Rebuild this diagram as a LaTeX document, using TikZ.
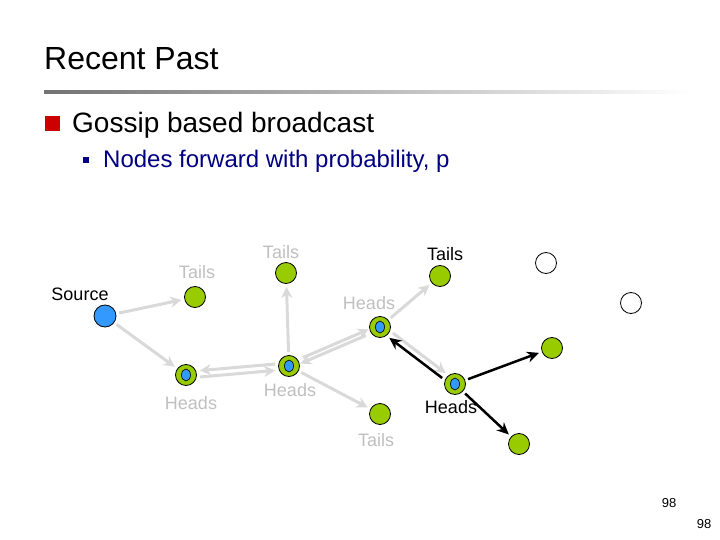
\documentclass[tikz,border=0pt]{standalone}
\usepackage{fontspec}
\setmainfont{Liberation Sans}
\usetikzlibrary{arrows.meta,positioning,shapes.geometric}

\definecolor{limegreen}{HTML}{99CC00}
\definecolor{peerblue}{HTML}{3399FF}
\definecolor{pale}{HTML}{D9D9D9}
\definecolor{palelabel}{HTML}{BFBFBF}
\definecolor{navytext}{HTML}{000080}
\definecolor{bulletred}{HTML}{CC0000}

\begin{document}
\begin{tikzpicture}[
    x=1pt,
    y=-1pt,
    peer/.style={circle, draw=black, line width=0.8pt, fill=#1, minimum size=21pt, inner sep=0pt},
    tailsnode/.style={peer=limegreen},
    idlenode/.style={peer=white},
    sourcenode/.style={peer=peerblue, minimum size=22pt},
    headsnode/.style={peer=limegreen, path picture={
        \draw[fill=peerblue, line width=0.6pt] (path picture bounding box.center) ellipse (4.5pt and 6pt);}},
    coin/.style={font=\fontsize{18}{20}\selectfont, text=palelabel, inner sep=0pt},
    coinon/.style={coin, text=black},
    garrow/.style={-{Stealth[length=11pt, width=11pt]}, pale, line width=3pt, shorten >=3pt, shorten <=3pt},
    barrow/.style={-{Stealth[length=12pt, width=11pt]}, black, line width=2.5pt, shorten >=3pt, shorten <=3pt},
  ]
  \useasboundingbox (0,0) rectangle (720,540);

  % === Title and bullets ===
  \node[anchor=base west, inner sep=0pt, font=\fontsize{32}{36}\selectfont] (title) at (44,70) {Recent Past};
  \shade[left color=black!55, right color=white] (44,90.5) rectangle (690,94);
  \fill[bulletred] (45,116) rectangle (60,131);
  \node[anchor=base west, inner sep=0pt, font=\fontsize{28}{32}\selectfont] (topic) at (72,133) {Gossip based broadcast};
  \fill[navytext] (83,157) rectangle (89,163);
  \node[anchor=base west, inner sep=0pt, text=navytext, font=\fontsize{24}{28}\selectfont] (subtopic) at (103,168) {Nodes forward with probability, p};

  % === Peers ===
  \node[sourcenode] (src) at (105,316) {};
  \node[tailsnode] (t1) at (195,297) {};
  \node[headsnode] (h1) at (186,375) {};
  \node[headsnode] (h2) at (289,366) {};
  \node[tailsnode] (t2) at (286,273) {};
  \node[headsnode] (h3) at (380,327) {};
  \node[tailsnode] (t3) at (440,276) {};
  \node[headsnode] (h4) at (455,384) {};
  \node[tailsnode] (t4) at (380,414) {};
  \node[tailsnode] (r1) at (552,348) {};
  \node[tailsnode] (r2) at (519,444) {};
  \node[idlenode] (w1) at (546,263) {};
  \node[idlenode] (w2) at (631,303) {};

  % === Coin labels ===
  \node[coinon] (srclabel) at (80,294) {Source};
  \node[coin] (t1label) at (197,272) {Tails};
  \node[coin] (h1label) at (191,403) {Heads};
  \node[coin] (t2label) at (281,252) {Tails};
  \node[coin] (h2label) at (290,390) {Heads};
  \node[coin] (h3label) at (369,303) {Heads};
  \node[coinon] (t3label) at (445,254) {Tails};
  \node[coinon] (h4label) at (451,407) {Heads};
  \node[coin] (t4label) at (376,440) {Tails};

  % === Earlier rounds (grey) ===
  \draw[garrow] (src) -- (t1);
  \draw[garrow] (src) -- (h1);
  \draw[garrow, transform canvas={yshift=3.2pt}] (h2) -- (h1);
  \draw[garrow, transform canvas={yshift=-3.2pt}] (h1) -- (h2);
  \draw[garrow] (h2) -- (t2);
  \draw[garrow, transform canvas={xshift=1.3pt, yshift=3pt}] (h2) -- (h3);
  \draw[garrow, transform canvas={xshift=-1.3pt, yshift=-3pt}] (h3) -- (h2);
  \draw[garrow] (h2) -- (t4);
  \draw[garrow] (h3) -- (t3);
  \draw[garrow, transform canvas={xshift=1.8pt, yshift=2.4pt}] (h3) -- (h4);

  % === Current round (black) ===
  \draw[barrow, transform canvas={xshift=-1.8pt, yshift=-2.4pt}] (h4) -- (h3);
  \draw[barrow] (h4) -- (r1);
  \draw[barrow] (h4) -- (r2);

  % === Page numbers ===
  \node[font=\fontsize{13}{15}\selectfont, inner sep=0pt] (pagea) at (669,503) {98};
  \node[font=\fontsize{13}{15}\selectfont, inner sep=0pt] (pageb) at (704,524) {98};

\end{tikzpicture}
\end{document}
